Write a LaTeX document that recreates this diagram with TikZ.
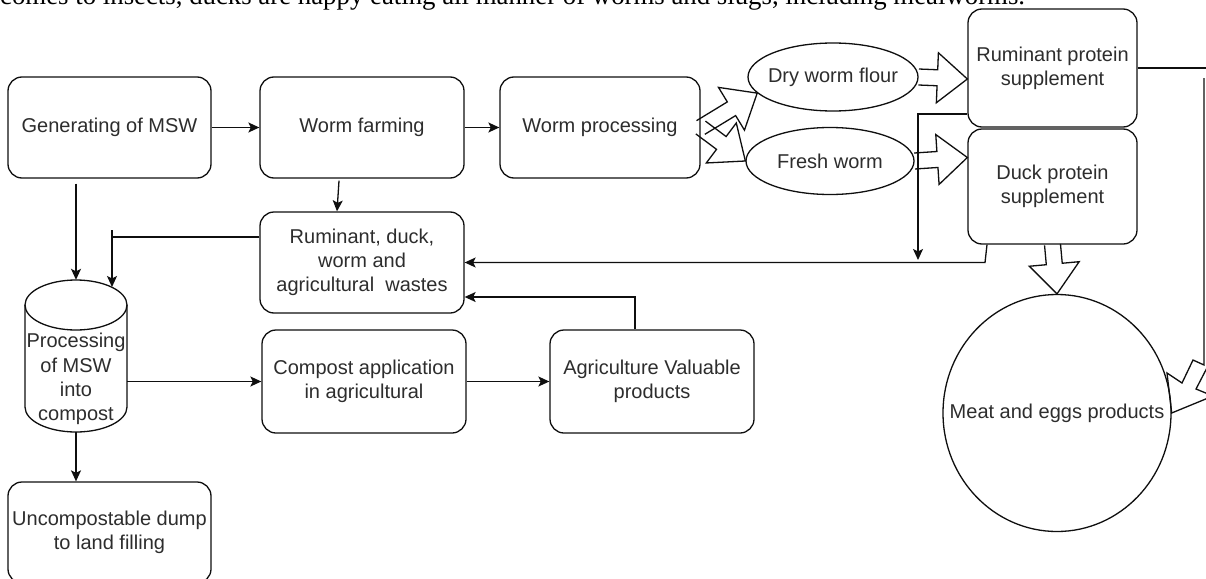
\documentclass[tikz,border=0pt]{standalone}
\usepackage{fontspec}
\setmainfont{Liberation Sans}
\newfontfamily\capfont{Liberation Serif}
\usetikzlibrary{arrows.meta,calc,shapes.geometric}
\definecolor{ln}{RGB}{15,15,15}
\definecolor{txt}{RGB}{45,45,45}
\newcommand\lblfont{\fontsize{20}{24.3}\selectfont}
\newcommand\flexarrow[2]{%
  \draw[flexline] let \p1=#1, \p2=#2, \n1={atan2(\y2-\y1,\x2-\x1)}, \n2={veclen(\x2-\x1,\y2-\y1)-30pt} in
    ($(\p1)+(\n1+90:8pt)$) -- ($(\p1)+(\n1:\n2)+(\n1+90:8pt)$) -- ($(\p1)+(\n1:\n2)+(\n1+90:25pt)$) -- (\p2)
    -- ($(\p1)+(\n1:\n2)+(\n1-90:25pt)$) -- ($(\p1)+(\n1:\n2)+(\n1-90:8pt)$) -- ($(\p1)+(\n1-90:8pt)$);}
\begin{document}
\begin{tikzpicture}[x=1pt,y=-1pt,
  box/.style={draw=ln, line width=1.3pt, rounded corners=14pt, align=center, inner sep=0pt, font=\lblfont, text=txt},
  oval/.style={draw=ln, line width=1.3pt, ellipse, inner sep=0pt},
  lbl/.style={font=\lblfont, text=txt, align=center, inner sep=0pt},
  conn/.style={draw=ln, line width=1.3pt, -{Stealth[length=11pt,width=10pt,inset=2.5pt]}},
  plain/.style={draw=ln, line width=1.3pt},
  flexline/.style={draw=ln, line width=1.3pt, line join=miter}]
\useasboundingbox (0,0) rectangle (1206,578);
\fill[white] (0,0) rectangle (1206,578);

% clipped caption line at the top
\node[anchor=base west, inner sep=0pt, font=\capfont\fontsize{26.8}{30}\selectfont, text=black] (cap) at (0,4.5)
  {comes to insects, ducks are happy eating all manner of worms and slugs, including mealworms.};

% boxes
\node[box, minimum width=203pt, minimum height=101pt] (gen) at (109.5,127.5) {Generating of MSW};
\node[box, minimum width=204pt, minimum height=101pt] (farm) at (362,127.5) {Worm farming};
\node[box, minimum width=200pt, minimum height=101pt] (wp) at (600,127.5) {Worm processing};
\node[oval, minimum width=170pt, minimum height=68pt] (dry) at (833,77) {};
\node[lbl] (dryt) at (dry) {Dry worm flour};
\node[oval, minimum width=168pt, minimum height=67pt] (fresh) at (830,161) {};
\node[lbl] (fresht) at (fresh) {Fresh worm};
\node[box, minimum width=169pt, minimum height=118pt] (rum) at (1052.5,68) {Ruminant protein\\supplement};
\node[box, minimum width=169pt, minimum height=115pt] (duck) at (1052.5,186.5) {Duck protein\\supplement};
\node[oval, minimum width=228pt, minimum height=237pt] (meat) at (1057,413) {};
\node[lbl] (meatt) at (meat) {Meat and eggs products};
\node[box, minimum width=204pt, minimum height=101pt] (waste) at (362,262.5) {Ruminant, duck,\\worm and\\agricultural\ \ wastes};
\node[box, minimum width=204pt, minimum height=103pt] (comp) at (364,381.5) {Compost application\\in agricultural};
\node[box, minimum width=204pt, minimum height=103pt] (agri) at (652,381.5) {Agriculture Valuable\\products};
\node[box, minimum width=203pt, minimum height=101pt] (unc) at (109.5,532.5) {Uncompostable dump\\to land filling};

% cylinder
\node[minimum width=102pt, minimum height=152pt, inner sep=0pt] (cyl) at (76,356) {};
\draw[plain] (25,305) -- (25,407) arc[start angle=180, end angle=360, x radius=51pt, y radius=25pt] -- (127,305);
\draw[plain] (76,305) ellipse [x radius=51pt, y radius=25pt];
\node[lbl] (cylt) at (76,379) {Processing\\of MSW\\into\\compost};

% thin connectors
\draw[conn] (gen.east) -- (farm.west);
\draw[conn] (farm.east) -- (wp.west);
\draw[conn] ([xshift=-23pt,yshift=-2pt]farm.south) -- ([xshift=-25pt]waste.north);
\draw[conn, shorten <=5pt] (gen.south -| cyl.north) -- (cyl.north);
\coordinate (wtick) at (112,230);
\coordinate (wend) at (112,287);
\coordinate (wa) at ([yshift=25.5pt]waste.west);
\draw[plain] (wa) -- (wa -| wtick);
\draw[conn] (wtick) -- (wend);
\draw[conn] (cyl.east |- comp.west) -- (comp.west);
\draw[conn] (comp.east) -- (agri.west);
\draw[conn] ([xshift=-17pt]agri.north) |- ([yshift=-34.5pt]waste.east);
\draw[conn] (cyl.south) -- (cyl.south |- unc.north);
\coordinate (dk) at (985,262.5);
\draw[conn] ([xshift=-65.5pt]duck.south) -- (dk) -- (waste.east);
\coordinate (rk) at (918,260);
\draw[conn] ([yshift=-46pt]rum.west) -| (rk);

% big hollow arrows
\flexarrow{(wp.east)}{(dry.192)}
\flexarrow{(wp.east)}{(fresh.west)}
\flexarrow{(dry.east)}{([yshift=-11pt]rum.west)}
\flexarrow{(fresh.east)}{([yshift=29pt]duck.west)}
\flexarrow{(duck.south)}{(meat.north)}

% bent hollow arrow from ruminant supplement to meat and eggs
\draw[plain] (rum.east) -- (1215,68);
\draw[flexline] (1204,78) -- (1204,365) -- (1193,360) -- (1182,383) -- (1167,373) -- (meat.east) -- (1213,396) -- (1196,389) -- (1210,362);
\end{tikzpicture}
\end{document}
